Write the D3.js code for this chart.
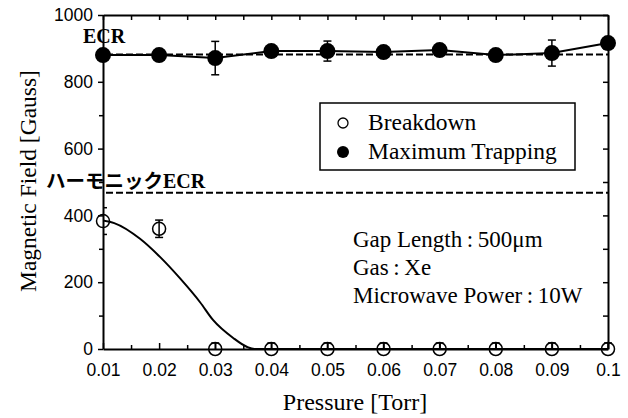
<!DOCTYPE html>
<html>
<head>
<meta charset="utf-8">
<script src="https://cdn.jsdelivr.net/npm/d3@7"></script>
<style>
  body { margin: 0; background: #fff; }
  svg { display: block; }
</style>
</head>
<body>
<div id="chart"></div>
<script>
// data
const pressure = [0.01, 0.02, 0.03, 0.04, 0.05, 0.06, 0.07, 0.08, 0.09, 0.1];
const trapping = [880, 880, 871, 892, 892, 889, 895, 880, 886, 916];
const trappingErr = [0, 0, 50, 0, 30, 0, 0, 0, 39, 0];
const breakdown = [383, 360, 0, 0, 0, 0, 0, 0, 0, 0];
const breakdownErrHi = [40, 26, 18, 18, 18, 18, 18, 18, 18, 18];
const breakdownErrLo = [40, 26, 0, 0, 0, 0, 0, 0, 0, 0];
// breakdown fit curve
const fitP = [0.01, 0.012, 0.0166, 0.0202, 0.0237, 0.0273, 0.0296, 0.0332, 0.0357, 0.037, 0.1];
const fitB = [385, 377, 330, 275, 212, 140, 87, 33, 6, 0, 0];
const ecrLevel = 882;
const harmonicLevel = 468;
const xTicks = [0.01, 0.02, 0.03, 0.04, 0.05, 0.06, 0.07, 0.08, 0.09, 0.1];
const yTicks = [0, 200, 400, 600, 800, 1000];

const SERIF = "'Liberation Serif', 'Times New Roman', serif";
const SANS = "'Liberation Sans', Arial, sans-serif";

const dimensions = { width: 628, height: 418, left: 103, right: 608, top: 15, bottom: 349 };

const svg = d3.select("#chart").append("svg")
  .attr("width", dimensions.width)
  .attr("height", dimensions.height);

const xScale = d3.scaleLinear().domain([0.01, 0.1]).range([dimensions.left, dimensions.right]);
const yScale = d3.scaleLinear().domain([0, 1000]).range([dimensions.bottom, dimensions.top]);

svg.append("clipPath").attr("id", "plot")
  .append("rect")
  .attr("x", dimensions.left).attr("y", dimensions.top - 10)
  .attr("width", dimensions.right - dimensions.left + 10)
  .attr("height", dimensions.bottom - dimensions.top + 10);

// minor ticks
const xMinor = d3.range(0.015, 0.1, 0.01);
const yMinor = d3.range(100, 1000, 200);

function styleAxis(g) {
  g.attr("font-family", SANS).attr("font-size", 17.5);
  g.select(".domain").attr("stroke-width", 2);
  g.selectAll(".tick line").attr("stroke-width", 1.5);
  g.selectAll(".tick text").attr("fill", "#000");
}

// bottom axis
svg.append("g")
  .attr("transform", `translate(0,${dimensions.bottom})`)
  .call(d3.axisBottom(xScale).tickValues(xTicks).tickFormat(d3.format("")).tickSizeInner(-6).tickSizeOuter(0).tickPadding(15))
  .call(styleAxis);
svg.append("g")
  .attr("transform", `translate(0,${dimensions.bottom})`)
  .call(d3.axisBottom(xScale).tickValues(xMinor).tickFormat("").tickSizeInner(-4).tickSizeOuter(0))
  .call(styleAxis)
  .call(g => g.select(".domain").remove());

// top axis
svg.append("g")
  .attr("transform", `translate(0,${dimensions.top})`)
  .call(d3.axisTop(xScale).tickValues(xTicks.concat(xMinor)).tickFormat("").tickSizeInner(-5).tickSizeOuter(0))
  .call(styleAxis);

// left axis
svg.append("g")
  .attr("transform", `translate(${dimensions.left},0)`)
  .call(d3.axisLeft(yScale).tickValues(yTicks).tickFormat(d3.format("d")).tickSizeInner(5).tickSizeOuter(0).tickPadding(5))
  .call(styleAxis);
svg.append("g")
  .attr("transform", `translate(${dimensions.left},0)`)
  .call(d3.axisLeft(yScale).tickValues(yMinor).tickFormat("").tickSizeInner(4).tickSizeOuter(0))
  .call(styleAxis)
  .call(g => g.select(".domain").remove());

// right axis
svg.append("g")
  .attr("transform", `translate(${dimensions.right},0)`)
  .call(d3.axisRight(yScale).tickValues(yTicks.concat(yMinor)).tickFormat("").tickSizeInner(-5).tickSizeOuter(0))
  .call(styleAxis);

// reference dashed lines
[ecrLevel, harmonicLevel].forEach(level => {
  svg.append("line")
    .attr("x1", xScale(0.01) + 3).attr("x2", xScale(0.1))
    .attr("y1", yScale(level)).attr("y2", yScale(level))
    .attr("stroke", "#000").attr("stroke-width", 2)
    .attr("stroke-dasharray", "7,3");
});

svg.append("text")
  .style("font-family", SERIF)
  .attr("x", 83).attr("y", 43)
  .attr("font-size", 20).attr("font-weight", "bold")
  .text("ECR");
const harm = svg.append("text")
  .attr("x", 46).attr("y", yScale(harmonicLevel) - 5)
  .attr("font-weight", "bold");
harm.append("tspan")
  .style("font-family", "'Noto Sans CJK JP', sans-serif")
  .attr("font-size", 19.5)
  .text("ハーモニック");
harm.append("tspan")
  .style("font-family", SERIF)
  .attr("font-size", 20)
  .text("ECR");

const plot = svg.append("g").attr("clip-path", "url(#plot)");

// breakdown fit curve
const fitLine = d3.line()
  .x((d, i) => xScale(fitP[i]))
  .y(d => yScale(d))
  .curve(d3.curveMonotoneX);
plot.append("path")
  .datum(fitB)
  .attr("d", fitLine)
  .attr("fill", "none").attr("stroke", "#000").attr("stroke-width", 2);

// trapping line
const trapLine = d3.line()
  .x((d, i) => xScale(pressure[i]))
  .y(d => yScale(d));
plot.append("path")
  .datum(trapping)
  .attr("d", trapLine)
  .attr("fill", "none").attr("stroke", "#000").attr("stroke-width", 2);

// error bars
function errorBars(vals, hi, lo) {
  vals.forEach((v, i) => {
    if (!hi[i] && !lo[i]) return;
    const x = xScale(pressure[i]);
    const y1 = yScale(v + hi[i]);
    const y2 = yScale(v - lo[i]);
    plot.append("line").attr("x1", x).attr("x2", x).attr("y1", y1).attr("y2", y2)
      .attr("stroke", "#000").attr("stroke-width", 1.5);
    if (hi[i]) plot.append("line").attr("x1", x - 4).attr("x2", x + 4).attr("y1", y1).attr("y2", y1)
      .attr("stroke", "#000").attr("stroke-width", 1.5);
    if (lo[i]) plot.append("line").attr("x1", x - 4).attr("x2", x + 4).attr("y1", y2).attr("y2", y2)
      .attr("stroke", "#000").attr("stroke-width", 1.5);
  });
}
errorBars(trapping, trappingErr, trappingErr);
errorBars(breakdown, breakdownErrHi, breakdownErrLo);

// markers
svg.selectAll(".trap").data(trapping).join("circle")
  .attr("cx", (d, i) => xScale(pressure[i]))
  .attr("cy", d => yScale(d))
  .attr("r", 8).attr("fill", "#000");
svg.selectAll(".brk").data(breakdown).join("circle")
  .attr("cx", (d, i) => xScale(pressure[i]))
  .attr("cy", d => yScale(d))
  .attr("r", 6.5).attr("fill", "none").attr("stroke", "#000").attr("stroke-width", 1.5);

// legend
svg.append("rect")
  .attr("x", 320).attr("y", 103).attr("width", 255).attr("height", 67)
  .attr("fill", "#fff").attr("stroke", "#000").attr("stroke-width", 1.5);
svg.append("circle").attr("cx", 343).attr("cy", 123).attr("r", 5)
  .attr("fill", "none").attr("stroke", "#000").attr("stroke-width", 1.3);
svg.append("circle").attr("cx", 343).attr("cy", 152).attr("r", 6).attr("fill", "#000");
svg.append("text").style("font-family", SERIF).attr("x", 368).attr("y", 130)
  .attr("font-size", 23.5).text("Breakdown");
svg.append("text").style("font-family", SERIF).attr("x", 368).attr("y", 159)
  .attr("font-size", 23.5).text("Maximum Trapping");

// conditions
const notes = ["Gap Length\u2009:\u2009500\u03bcm", "Gas\u2009:\u2009Xe", "Microwave Power\u2009:\u200910W"];
svg.append("g").selectAll("text").data(notes).join("text")
  .style("font-family", SERIF)
  .attr("x", 353).attr("y", (d, i) => 247 + i * 28)
  .attr("font-size", 23)
  .text(d => d);

// axis titles
svg.append("text").style("font-family", SERIF)
  .attr("x", 355).attr("y", 410).attr("text-anchor", "middle")
  .attr("font-size", 24).text("Pressure [Torr]");
svg.append("text").style("font-family", SERIF)
  .attr("transform", "translate(36,181) rotate(-90)")
  .attr("text-anchor", "middle")
  .attr("font-size", 23.5).text("Magnetic Field [Gauss]");
</script>
</body>
</html>
